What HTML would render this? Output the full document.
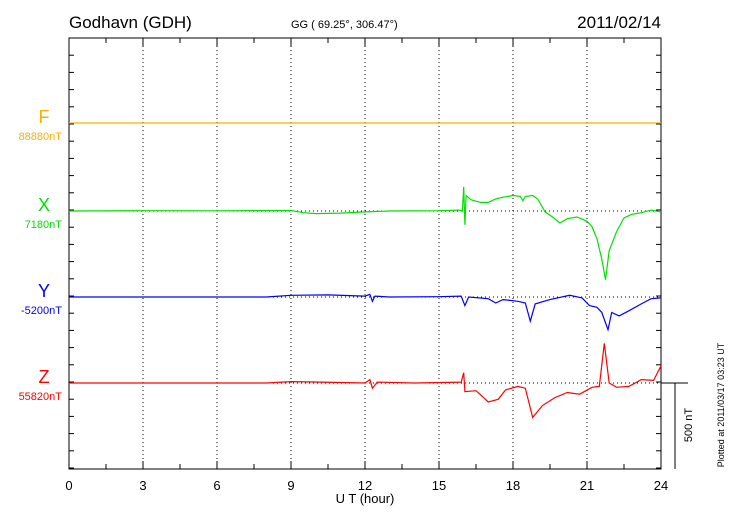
<!DOCTYPE html>
<html><head><meta charset="utf-8"><style>
body{margin:0;background:#fff;}
svg{display:block;font-family:"Liberation Sans",sans-serif;}
</style></head><body>
<svg id="c" width="730" height="520"></svg>
<script>
const hourTicks=[0,3,6,9,12,15,18,21,24];
const fTimes=[0,24], fVals=[0,0];
const xTimes=[0,3,6,9,9.5,10,11,12,13,15,15.8,15.95,16.0,16.05,16.1,16.3,16.7,17,17.3,17.6,18,18.3,18.4,18.5,18.8,19,19.3,19.6,19.9,20.2,20.6,21,21.2,21.4,21.6,21.75,21.9,22.2,22.5,22.8,23.2,23.6,24];
const xVals=[0,2,1,3,-10,-15,-12,-5,0,2,5,0,140,-80,90,65,50,50,70,80,90,85,60,85,90,70,-5,-35,-70,-45,-35,-60,-90,-160,-280,-400,-230,-120,-40,-20,-10,5,-5];
const yTimes=[0,8,9,10.5,12,12.2,12.3,12.4,13,15,15.9,16.05,16.2,17,17.3,17.6,18.2,18.5,18.7,18.9,19.5,20.3,20.8,21.1,21.4,21.6,21.85,22.0,22.3,22.7,23.2,23.6,24];
const yVals=[0,0,10,12,5,15,-25,5,0,2,5,-50,0,-10,-35,-15,-25,-35,-140,-40,-15,10,-5,-50,-60,-90,-190,-90,-110,-80,-40,-10,-5];
const zTimes=[0,8,9,10,12,12.2,12.3,12.5,14,15.9,16.0,16.05,16.5,17,17.4,17.7,18.2,18.5,18.8,19.2,19.7,20.2,20.7,21.2,21.5,21.7,21.9,22.2,22.7,23.2,23.7,24];
const zVals=[0,0,8,6,0,20,-30,5,0,5,60,-50,-45,-110,-95,-40,-20,-30,-200,-130,-85,-55,-65,-25,-20,230,0,-25,-20,20,15,100];
const L=69,R=661,T=38,B=469;
const sx=h=>L+(R-L)*h/24;
const PXNT=86/500;
const svg=document.getElementById('c');
const NS='http://www.w3.org/2000/svg';
function mk(t,a,txt){const e=document.createElementNS(NS,t);for(const k in a)e.setAttribute(k,a[k]);if(txt!==undefined)e.textContent=txt;svg.appendChild(e);return e;}
// grid
hourTicks.forEach(h=>{if(h>0&&h<24){const g=mk('line',{x1:sx(h),x2:sx(h),y1:T,y2:B,stroke:'#000','stroke-width':1,'stroke-dasharray':'1,3'});

}});
const series=[
 {name:'F',color:'#f5b000',base:123,label:'88880nT',t:fTimes,v:fVals},
 {name:'X',color:'#00e000',base:211,label:'7180nT',t:xTimes,v:xVals},
 {name:'Y',color:'#0000ff',base:297,label:'-5200nT',t:yTimes,v:yVals},
 {name:'Z',color:'#ff0000',base:383,label:'55820nT',t:zTimes,v:zVals}];
series.forEach(s=>{const g=mk('line',{x1:L,x2:R,y1:s.base,y2:s.base,stroke:'#000','stroke-dasharray':'1,3'});

});
// frame
const fr=mk('rect',{x:L,y:T,width:R-L,height:B-T,fill:'none',stroke:'#000','stroke-width':1});


// ticks
for(let i=0;i<=16;i++){const h=i*1.5,x=sx(h),len=(i%2==0)?8:5;
 mk('line',{x1:x,x2:x,y1:T,y2:T+len,stroke:'#000'});mk('line',{x1:x,x2:x,y1:B,y2:B-len,stroke:'#000'});}
for(let y=T+17.2;y<B;y+=17.2){mk('line',{x1:L,x2:L+5,y1:y,y2:y,stroke:'#000'});mk('line',{x1:R,x2:R-5,y1:y,y2:y,stroke:'#000'});}
hourTicks.forEach(h=>{const t=mk('text',{x:sx(h),y:490,'font-size':13,'text-anchor':'middle'},String(h));

});
// series
series.forEach(s=>{
 let d='';s.t.forEach((h,i)=>{d+=(i?'L':'M')+sx(h).toFixed(1)+','+(s.base-s.v[i]*PXNT).toFixed(1);});
 const p=mk('path',{d:d,fill:'none',stroke:s.color,'stroke-width':1.2});
 
 
 const a=mk('text',{x:44,y:s.base,'font-size':18,fill:s.color,'text-anchor':'middle'},s.name);
 
 
 const b=mk('text',{x:62,y:s.base+17,'font-size':11,fill:s.color,'text-anchor':'end'},s.label);
 
 
});
// scale bar
mk('line',{x1:R,x2:688,y1:383,y2:383,stroke:'#000'});
const sb=mk('line',{x1:675,x2:675,y1:383,y2:469,stroke:'#000'});


</script>
<script>
(function(){const svg=document.getElementById('c');const NS='http://www.w3.org/2000/svg';
function mk(t,a,txt){const e=document.createElementNS(NS,t);for(const k in a)e.setAttribute(k,a[k]);if(txt!==undefined)e.textContent=txt;svg.appendChild(e);return e;}
let e;
e=mk('text',{x:69,y:28,'font-size':17},'Godhavn (GDH)');


e=mk('text',{x:291,y:28,'font-size':11},'GG ( 69.25°, 306.47°)');


e=mk('text',{x:661,y:28,'font-size':17,'text-anchor':'end'},'2011/02/14');


e=mk('text',{x:365,y:503,'font-size':13,'text-anchor':'middle'},'U T (hour)');


e=mk('text',{x:0,y:0,'font-size':11,'text-anchor':'middle',transform:'translate(692,425) rotate(-90)'},'500 nT');


e=mk('text',{x:0,y:0,'font-size':9,'text-anchor':'middle',transform:'translate(724,405) rotate(-90)'},'Plotted at 2011/03/17 03:23 UT');


})();
</script>
</body></html>
